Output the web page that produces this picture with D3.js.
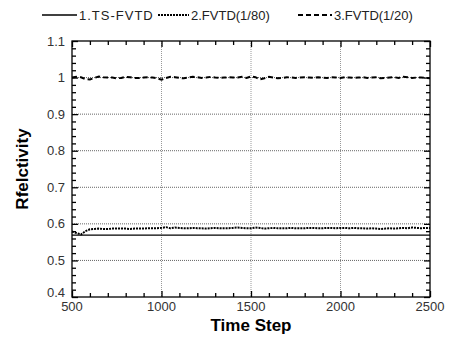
<!DOCTYPE html>
<html>
<head>
<meta charset="utf-8">
<script src="https://cdn.jsdelivr.net/npm/d3@7"></script>
<style>
  body { margin: 0; background: #fff; }
  svg { font-family: "Liberation Sans", Arial, sans-serif; }
</style>
</head>
<body>
<svg id="chart"></svg>
<script>
// x positions of the sampled series (time steps)
let steps = d3.range(500, 2501, 25)

let seriesNames = ["1.TS-FVTD", "2.FVTD(1/80)", "3.FVTD(1/20)"]

let s1Steps = [500, 2500]
let s1 = [0.569, 0.569]

let s2 = [0.579, 0.575, 0.571, 0.580, 0.585, 0.586, 0.587, 0.586, 0.586, 0.587,
    0.587, 0.587, 0.587, 0.586, 0.587, 0.587, 0.587, 0.588, 0.588, 0.588,
    0.589, 0.591, 0.588, 0.590, 0.589, 0.588, 0.588, 0.589, 0.588, 0.588,
    0.587, 0.588, 0.589, 0.588, 0.588, 0.588, 0.589, 0.590, 0.589, 0.588,
    0.588, 0.590, 0.589, 0.587, 0.588, 0.589, 0.588, 0.588, 0.588, 0.589,
    0.588, 0.588, 0.588, 0.589, 0.589, 0.588, 0.588, 0.589, 0.589, 0.588,
    0.589, 0.589, 0.588, 0.589, 0.588, 0.588, 0.587, 0.588, 0.587, 0.586,
    0.587, 0.588, 0.587, 0.588, 0.589, 0.588, 0.590, 0.589, 0.588, 0.589,
    0.589]

let s3 = [1.0, 1.002, 1.001, 0.996, 0.995, 0.999, 1.003, 1.001, 1.0, 1.0,
    0.998, 0.999, 1.002, 1.001, 0.999, 0.999, 1.0, 1.001, 1.0, 0.998,
    0.994, 0.999, 1.002, 1.001, 0.999, 0.998, 1.0, 1.002, 1.001, 0.999,
    1.0, 1.002, 1.0, 0.999, 1.0, 1.001, 1.0, 1.0, 1.002, 0.999,
    1.003, 1.001, 0.995, 0.998, 1.002, 1.0, 0.998, 0.999, 1.001, 1.0,
    0.999, 1.0, 1.001, 1.0, 0.999, 1.001, 1.0, 0.999, 1.001, 1.0,
    0.999, 1.001, 1.0, 0.999, 1.0, 1.001, 0.999, 1.0, 1.001, 0.998,
    0.999, 1.0, 1.001, 0.999, 1.002, 1.001, 0.999, 1.0, 1.0, 0.999,
    0.998]

let xTicks = [500, 1000, 1500, 2000, 2500]
let yTicks = [0.4, 0.5, 0.6, 0.7, 0.8, 0.9, 1, 1.1]

let width = 449
let height = 338
let plotLeft = 72, plotRight = 430, plotTop = 41, plotBottom = 297

let chart = d3.select("#chart").attr("width", width).attr("height", height)

let xscale = d3.scaleLinear().domain([500, 2500]).range([plotLeft, plotRight])
let yscale = d3.scaleLinear().domain([0.4, 1.1]).range([plotBottom, plotTop])

// gridlines
chart.append("g").selectAll("line")
    .data(xTicks.slice(1, -1))
    .enter().append("line")
    .attr("x1", d => xscale(d)).attr("x2", d => xscale(d))
    .attr("y1", plotTop).attr("y2", plotBottom)
    .style("stroke", "#999").style("stroke-width", 1)
    .style("stroke-dasharray", "1,1")

chart.append("g").selectAll("line")
    .data(yTicks.slice(1, -1))
    .enter().append("line")
    .attr("x1", plotLeft).attr("x2", plotRight)
    .attr("y1", d => yscale(d)).attr("y2", d => yscale(d))
    .style("stroke", "#666").style("stroke-width", 1)
    .style("stroke-dasharray", "1,1")

// minor/major ticks on all four sides, pointing inward
let xMinor = d3.range(600, 2500, 100).filter(d => d % 500 != 0)
let yMinor = d3.range(0.42, 1.1, 0.02).filter(d => Math.abs(d * 10 - Math.round(d * 10)) > 0.01)

function addAxis(axis, tr) {
    chart.append("g").attr("transform", tr).call(axis)
        .call(g => g.select(".domain").remove())
        .call(g => g.selectAll("line").style("stroke", "#000").style("stroke-width", 1.3))
}

addAxis(d3.axisBottom(xscale).tickValues(xMinor).tickSize(-4).tickFormat(""), "translate(0," + plotBottom + ")")
addAxis(d3.axisBottom(xscale).tickValues(xTicks).tickSize(-6).tickFormat(""), "translate(0," + plotBottom + ")")
addAxis(d3.axisTop(xscale).tickValues(xMinor).tickSize(-4).tickFormat(""), "translate(0," + plotTop + ")")
addAxis(d3.axisTop(xscale).tickValues(xTicks).tickSize(-6).tickFormat(""), "translate(0," + plotTop + ")")
addAxis(d3.axisLeft(yscale).tickValues(yMinor).tickSize(-4).tickFormat(""), "translate(" + plotLeft + ",0)")
addAxis(d3.axisLeft(yscale).tickValues(yTicks).tickSize(-6).tickFormat(""), "translate(" + plotLeft + ",0)")
addAxis(d3.axisRight(yscale).tickValues(yMinor).tickSize(-4).tickFormat(""), "translate(" + plotRight + ",0)")
addAxis(d3.axisRight(yscale).tickValues(yTicks).tickSize(-6).tickFormat(""), "translate(" + plotRight + ",0)")

// frame
chart.append("rect")
    .attr("x", plotLeft).attr("y", plotTop)
    .attr("width", plotRight - plotLeft).attr("height", plotBottom - plotTop)
    .style("fill", "none").style("stroke", "#000").style("stroke-width", 1.3)

// tick labels
chart.append("g").selectAll("text")
    .data(xTicks)
    .enter().append("text")
    .attr("x", d => xscale(d))
    .attr("y", plotBottom + 14)
    .style("text-anchor", "middle")
    .style("font-size", "13px")
    .style("fill", "#333")
    .text(d => d)

chart.append("g").selectAll("text")
    .data(yTicks)
    .enter().append("text")
    .attr("x", plotLeft - 7)
    .attr("y", d => yscale(d) + (d == 0.4 ? 0 : 4.5))
    .style("text-anchor", "end")
    .style("font-size", "13px")
    .style("fill", "#333")
    .text(d => d)

// axis titles
chart.append("text")
    .attr("x", (plotLeft + plotRight) / 2)
    .attr("y", 331)
    .style("text-anchor", "middle")
    .style("font-size", "17px")
    .style("font-weight", "bold")
    .text("Time Step")

chart.append("text")
    .attr("transform", "translate(28," + ((plotTop + plotBottom) / 2) + ") rotate(-90)")
    .style("text-anchor", "middle")
    .style("font-size", "17px")
    .style("font-weight", "bold")
    .text("Rfelctivity")

// series
let styles = [
    { dash: null, w: 1.3 },
    { dash: "2,1", w: 2 },
    { dash: "5,3", w: 2 }
]

let line = d3.line().x(d => xscale(d[0])).y(d => yscale(d[1]))

let seriesData = [
    s1Steps.map((x, i) => [x, s1[i]]),
    steps.map((x, i) => [x, s2[i]]),
    steps.map((x, i) => [x, s3[i]])
]

chart.append("g").selectAll("path")
    .data(seriesData)
    .enter().append("path")
    .attr("d", line)
    .style("fill", "none")
    .style("stroke", "#000")
    .style("stroke-width", (d, i) => styles[i].w)
    .style("stroke-dasharray", (d, i) => styles[i].dash)

// legend
let legendX = [42, 158, 298]
let legendLen = [35, 31, 34]
let legend = chart.append("g").selectAll("g")
    .data(seriesNames)
    .enter().append("g")
    .attr("transform", (d, i) => "translate(" + legendX[i] + ",15)")

legend.append("line")
    .attr("x1", 0).attr("x2", (d, i) => legendLen[i])
    .attr("y1", 0).attr("y2", 0)
    .style("stroke", "#000")
    .style("stroke-width", (d, i) => styles[i].w)
    .style("stroke-dasharray", (d, i) => styles[i].dash)

legend.append("text")
    .attr("x", (d, i) => legendLen[i] + 2)
    .attr("y", 5)
    .style("font-size", "13px")
    .style("letter-spacing", (d, i) => i == 0 ? "1px" : "0px")
    .style("fill", "#222")
    .text(d => d)
</script>
</body>
</html>
